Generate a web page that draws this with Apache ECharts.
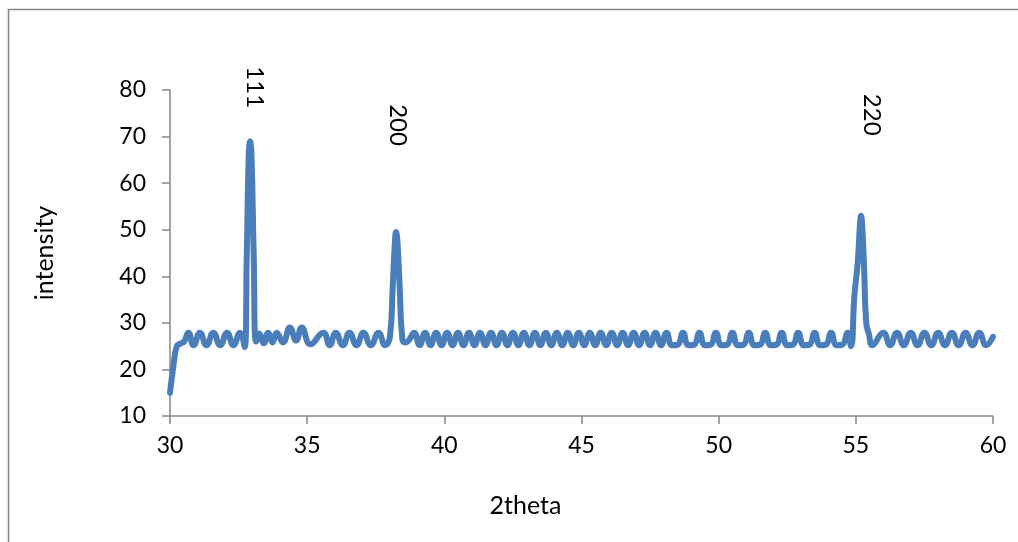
<!DOCTYPE html>
<html>
<head>
<meta charset="utf-8">
<script src="https://cdn.jsdelivr.net/npm/echarts@6/dist/echarts.min.js"></script>
<style>
  html, body { margin: 0; padding: 0; background: #ffffff; }
  #chart { width: 1018px; height: 542px; }
</style>
</head>
<body>
<div id="chart"></div>
<script>
// Diffraction scan: 2theta (degrees) against intensity
const twoTheta = [
  30.00, 30.12, 30.25, 30.40, 30.52, 30.67, 30.86, 31.09, 31.33, 31.58, 31.83, 32.08, 32.31, 32.55, 32.72,
  32.80, 32.87, 32.92, 32.97, 33.05, 33.14,
  33.25, 33.42, 33.58, 33.74, 33.89, 34.12, 34.37, 34.60, 34.80, 35.12, 35.59, 35.82, 36.04, 36.30, 36.54,
  36.80, 37.05, 37.32, 37.60, 37.84, 38.02,
  38.12, 38.20, 38.24, 38.29, 38.37, 38.47, 38.58, 38.70,
  38.90, 39.10, 39.30, 39.50, 39.70, 39.90, 40.10, 40.30, 40.50, 40.70, 40.90, 41.10, 41.30, 41.50,
  41.70, 41.90, 42.10, 42.30, 42.50, 42.70, 42.90, 43.10, 43.30, 43.50, 43.70, 43.90, 44.10, 44.30,
  44.50, 44.70, 44.90, 45.10, 45.30, 45.50, 45.70, 45.90, 46.10, 46.30, 46.50, 46.70, 46.90, 47.10,
  47.30, 47.50, 47.70, 47.90, 48.10,
  48.30, 48.50, 48.70, 48.90, 49.10, 49.30, 49.50, 49.70, 49.90, 50.10, 50.30, 50.50, 50.70, 50.90,
  51.10, 51.30, 51.50, 51.70, 51.90, 52.10, 52.30, 52.50, 52.70, 52.90, 53.10, 53.30, 53.50, 53.70,
  53.90, 54.10, 54.30, 54.50, 54.70, 54.82,
  54.95, 55.07, 55.15, 55.19, 55.23, 55.30, 55.38, 55.48, 55.60,
  56.00, 56.25, 56.50, 56.75, 57.00, 57.25, 57.50, 57.75, 58.00, 58.25, 58.50, 58.75, 59.00, 59.25,
  59.50, 59.75, 60.00
];
const intensity = [
  15.0, 20.5, 25.0, 25.6, 26.0, 27.9, 25.2, 27.9, 25.2, 27.9, 25.2, 27.9, 25.2, 27.9, 24.8,
  45.0, 66.0, 69.0, 66.0, 45.0, 26.0,
  27.7, 25.6, 27.9, 25.8, 27.9, 25.8, 29.0, 26.2, 29.0, 25.4, 27.9, 25.2, 27.9, 25.2, 27.9,
  25.2, 27.9, 25.2, 27.9, 25.2, 27.2,
  38.0, 47.5, 49.5, 47.5, 38.0, 26.5, 25.8, 26.2,
  27.9, 25.2, 27.9, 25.2, 27.9, 25.2, 27.9, 25.2, 27.9, 25.2, 27.9, 25.2, 27.9, 25.2,
  27.9, 25.2, 27.9, 25.2, 27.9, 25.2, 27.9, 25.2, 27.9, 25.2, 27.9, 25.2, 27.9, 25.2,
  27.9, 25.2, 27.9, 25.2, 27.9, 25.2, 27.9, 25.2, 27.9, 25.2, 27.9, 25.2, 27.9, 25.2,
  27.9, 25.2, 27.9, 25.2, 27.9,
  25.2, 25.3, 27.9, 25.2, 25.3, 27.9, 25.2, 25.3, 27.9, 25.2, 25.3, 27.9, 25.2, 25.3,
  27.9, 25.2, 25.3, 27.9, 25.2, 25.3, 27.9, 25.2, 25.3, 27.9, 25.2, 25.3, 27.9, 25.2,
  25.3, 27.9, 25.2, 25.3, 27.9, 25.0,
  36.0, 43.0, 51.0, 53.0, 51.0, 42.0, 30.0, 27.5, 25.2,
  27.9, 25.2, 27.9, 25.2, 27.9, 25.2, 27.9, 25.2, 27.9, 25.2, 27.9, 25.2, 27.9, 25.2,
  27.9, 25.2, 27.0
];
// Reflection indices and the 2theta of their peaks
const peakNames = ['111', '200', '220'];
const peakTheta = [32.92, 38.24, 55.19];

const xTicks = { min: 30, max: 60, interval: 5 };
const yTicks = { min: 10, max: 80, interval: 10 };

const FONT = 'Lato';
const AXIS_GRAY = '#868686';
const LINE_BLUE = '#4A7EBB';

const chart = echarts.init(document.getElementById('chart'), null, { renderer: 'canvas' });

const axisCommon = {
  type: 'value',
  splitLine: { show: false },
  axisLine: { show: true, lineStyle: { color: AXIS_GRAY, width: 1.5 } },
  axisTick: { show: true, inside: false, length: 8, lineStyle: { color: AXIS_GRAY, width: 1.5 } },
  nameTextStyle: { fontFamily: FONT, fontSize: 25, color: '#000' }
};

chart.setOption({
  animation: false,
  backgroundColor: '#ffffff',
  grid: { left: 170, right: 25, top: 90, bottom: 126, containLabel: false },
  xAxis: Object.assign({}, axisCommon, {
    min: xTicks.min, max: xTicks.max, interval: xTicks.interval,
    axisLabel: { fontFamily: FONT, fontSize: 23, color: '#000', margin: 18 },
    name: '2theta', nameLocation: 'middle', nameGap: 77,
    nameTextStyle: { fontFamily: FONT, fontSize: 25, color: '#000', padding: [0, 112, 0, 0] }
  }),
  yAxis: Object.assign({}, axisCommon, {
    min: yTicks.min, max: yTicks.max, interval: yTicks.interval,
    axisLabel: { fontFamily: FONT, fontSize: 23, color: '#000', margin: 24 },
    name: 'intensity', nameLocation: 'middle', nameGap: 113, nameRotate: 90
  }),
  series: [{
    type: 'line',
    data: twoTheta.map((t, i) => [t, intensity[i]]),
    smooth: 0.5,
    showSymbol: false,
    symbol: 'none',
    lineStyle: { color: LINE_BLUE, width: 6, cap: 'round', join: 'round' },
    clip: false
  }]
});

// Outer chart frame plus the peak index labels, rotated to read downwards
const labelOffsets = [[5, -54], [2, -107], [11, -101]];
const graphics = [{
  id: 'frame',
  type: 'rect',
  shape: { x: 8.5, y: 9.5, width: 1200, height: 700 },
  style: { fill: 'none', stroke: AXIS_GRAY, lineWidth: 1.5 },
  silent: true,
  z: -1
}];
peakNames.forEach((name, i) => {
  const idx = twoTheta.indexOf(peakTheta[i]);
  const p = chart.convertToPixel({ gridIndex: 0 }, [peakTheta[i], intensity[idx]]);
  graphics.push({
    id: 'peak-' + name,
    type: 'text',
    x: p[0] + labelOffsets[i][0],
    y: p[1] + labelOffsets[i][1],
    rotation: -Math.PI / 2,
    style: {
      text: name, fontFamily: FONT, fontSize: 24, fill: '#000',
      align: 'center', verticalAlign: 'middle'
    },
    silent: true
  });
});
chart.setOption({ graphic: graphics });
</script>
</body>
</html>
